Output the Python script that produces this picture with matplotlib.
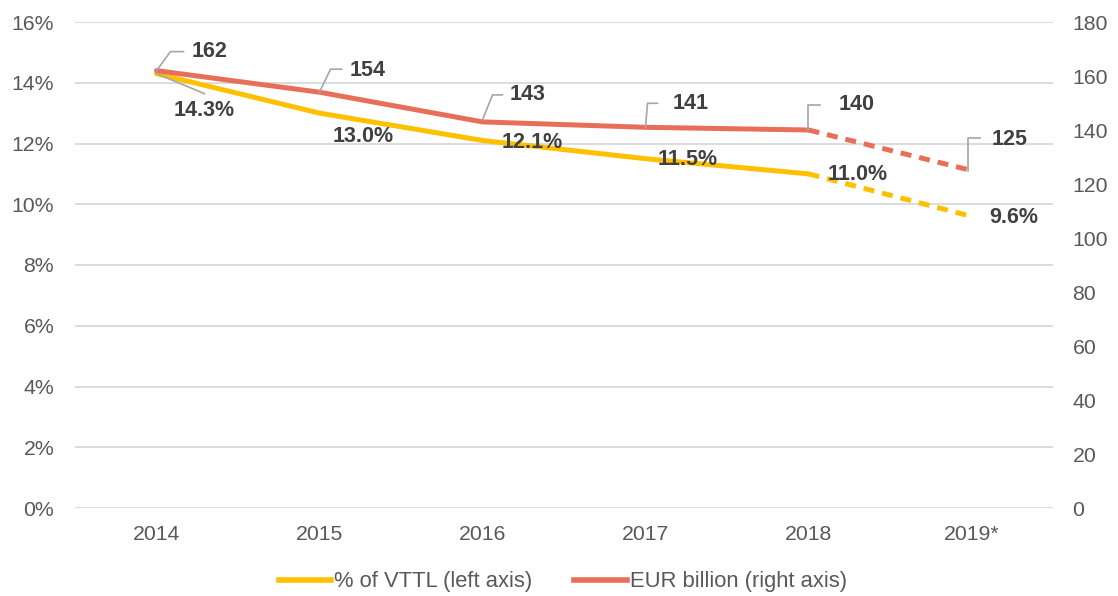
import matplotlib
matplotlib.use("Agg")
import matplotlib.pyplot as plt
from matplotlib.lines import Line2D

plt.rcParams['font.family'] = ['Liberation Sans', 'DejaVu Sans']

years = ["2014", "2015", "2016", "2017", "2018", "2019*"]
pct_vttl = [14.3, 13.0, 12.1, 11.5, 11.0, 9.6]
eur_bn = [162, 154, 143, 141, 140, 125]
pct_labels = ["14.3%", "13.0%", "12.1%", "11.5%", "11.0%", "9.6%"]
eur_labels = ["162", "154", "143", "141", "140", "125"]

YELLOW = "#FFC000"
RED = "#E76F5A"
TICK = "#595959"
LABEL = "#404040"
GRID = "#D9D9D9"
LEADER = "#A6A6A6"

W, H = 1118, 596
fig = plt.figure(figsize=(W / 100, H / 100), dpi=100)
ax = fig.add_axes([75 / W, 1 - 508 / H, (1053 - 75) / W, (508 - 22) / H])
ax2 = ax.twinx()

x = list(range(len(years)))
lw = 3.6
ax.plot(x[:5], pct_vttl[:5], color=YELLOW, lw=lw, solid_capstyle='round', zorder=3)
ax.plot(x[4:], pct_vttl[4:], color=YELLOW, lw=lw, ls=(0, (2.2, 1.6)), zorder=3)
ax2.plot(x[:5], eur_bn[:5], color=RED, lw=lw, solid_capstyle='round', zorder=3)
ax2.plot(x[4:], eur_bn[4:], color=RED, lw=lw, ls=(0, (2.2, 1.6)), zorder=3)

ax.set_xlim(-0.5, 5.5)
ax.set_ylim(0, 16)
ax2.set_ylim(0, 180)
ax.set_yticks(range(0, 17, 2))
ax.set_yticklabels([f"{v}%" for v in range(0, 17, 2)])
ax2.set_yticks(range(0, 181, 20))
ax.set_xticks(x)
ax.set_xticklabels(years)

for a in (ax, ax2):
    for s in a.spines.values():
        s.set_visible(False)
    a.tick_params(length=0, labelsize=15.3, colors=TICK)
ax.tick_params(axis='y', pad=15)
ax2.tick_params(axis='y', pad=14)
ax.tick_params(axis='x', pad=12)
ax.yaxis.grid(True, color=GRID, lw=1.3)
ax.set_axisbelow(True)
ax2.set_zorder(ax.get_zorder() + 1)
ax2.patch.set_visible(False)

# label offsets in pixels (dx, dy) relative to point
pct_off = [(48, -37), (44, -23), (50, -2.5), (42, -1), (49, -1), (42, -1)]
eur_off = [(53, 19.5), (48, 22), (45, 27), (45, 24), (48, 26), (38, 31)]
eur_leaders = [
    [(0, 0), (14, 19), (27, 19)],
    [(0, 0), (11, 23), (22, 23)],
    [(0, 2), (10, 27), (20, 27)],
    [(0, 0), (2, 24), (12, 24)],
    [(0, 0), (0, 25), (12, 25)],
    [(-3, 0), (-3, 33), (9, 33)],
]
pct_leaders = {0: [(0, 0), (48, -20)]}

fig.canvas.draw()
inv = fig.transFigure.inverted()


def leader(axis, xi, yi, verts):
    px, py = axis.transData.transform((xi, yi))
    pts = [inv.transform((px + dx, py + dy)) for dx, dy in verts]
    fig.add_artist(Line2D([p[0] for p in pts], [p[1] for p in pts],
                          transform=fig.transFigure, color=LEADER, lw=1.2, zorder=5))


for i in x:
    ax2.annotate(eur_labels[i], (i, eur_bn[i]), xytext=eur_off[i], textcoords='offset pixels',
                 ha='center', va='center', fontsize=15.5, fontweight='bold', color=LABEL, zorder=6)
    leader(ax2, i, eur_bn[i], eur_leaders[i])
    ax.annotate(pct_labels[i], (i, pct_vttl[i]), xytext=pct_off[i], textcoords='offset pixels',
                ha='center', va='center', fontsize=15.5, fontweight='bold', color=LABEL, zorder=6)
for i, v in pct_leaders.items():
    leader(ax, i, pct_vttl[i], v)

handles = [Line2D([], [], color=YELLOW, lw=lw + 0.4), Line2D([], [], color=RED, lw=lw + 0.4)]
fig.legend(handles, ["% of VTTL (left axis)", "EUR billion (right axis)"],
           loc='center', bbox_to_anchor=(563 / W, 1 - 582 / H), ncol=2, frameon=False,
           fontsize=15.8, labelcolor=TICK, handlelength=2.4, handletextpad=0.15,
           columnspacing=1.9, borderpad=0)

fig.savefig("out.png", dpi=100)
